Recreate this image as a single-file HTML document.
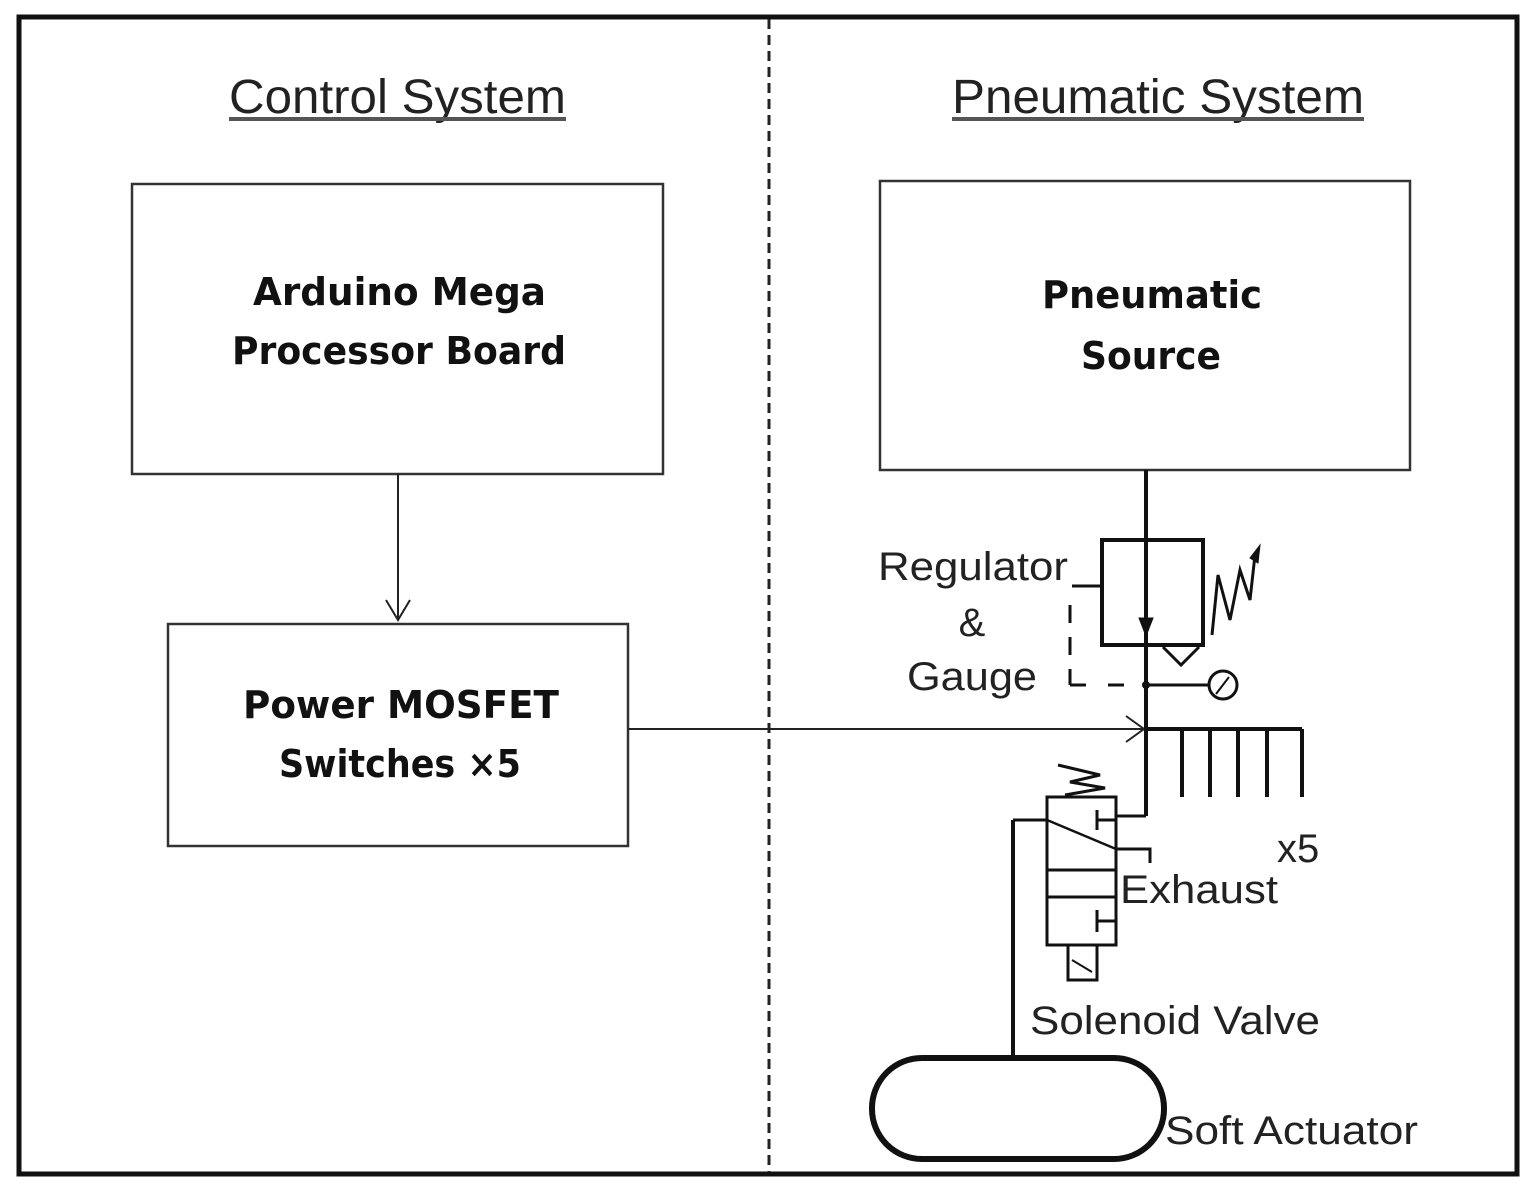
<!DOCTYPE html>
<html><head><meta charset="utf-8"><style>html,body{margin:0;padding:0;background:#fff}svg{display:block}</style></head>
<body>
<svg width="1530" height="1186" viewBox="0 0 1530 1186" xmlns="http://www.w3.org/2000/svg">
<rect x="0" y="0" width="1530" height="1186" fill="#fff"/>
<rect x="19" y="17" width="1498" height="1157" fill="none" stroke="#111" stroke-width="5"/>
<line x1="769" y1="19" x2="769" y2="1172" stroke="#222" stroke-width="3" stroke-dasharray="10,6"/>
<g font-family="Liberation Sans, sans-serif" fill="#222">
<text x="229" y="113" font-size="48" textLength="337" lengthAdjust="spacingAndGlyphs">Control System</text>
<line x1="229" y1="119" x2="566" y2="119" stroke="#555" stroke-width="4"/>
<text x="952" y="113" font-size="48" textLength="412" lengthAdjust="spacingAndGlyphs">Pneumatic System</text>
<line x1="952" y1="119" x2="1364" y2="119" stroke="#555" stroke-width="4"/>
</g>
<g fill="none" stroke="#333" stroke-width="2.5">
<rect x="132" y="184" width="531" height="290"/>
<rect x="168" y="624" width="460" height="222"/>
<rect x="880" y="181" width="530" height="289"/>
</g>
<g font-family="DejaVu Sans, Liberation Sans, sans-serif" font-weight="bold" fill="#111" font-size="38">
<text x="253" y="305" textLength="293" lengthAdjust="spacingAndGlyphs">Arduino Mega</text>
<text x="232" y="364" textLength="334" lengthAdjust="spacingAndGlyphs">Processor Board</text>
<text x="243" y="718" textLength="316" lengthAdjust="spacingAndGlyphs">Power MOSFET</text>
<text x="279" y="777" textLength="242" lengthAdjust="spacingAndGlyphs">Switches ×5</text>
<text x="1042" y="308" textLength="220" lengthAdjust="spacingAndGlyphs">Pneumatic</text>
<text x="1081" y="369" textLength="140" lengthAdjust="spacingAndGlyphs">Source</text>
</g>
<g stroke="#222" stroke-width="2" fill="none">
<line x1="398" y1="474" x2="398" y2="620"/>
<polyline points="386,600 398,620 410,600"/>
<line x1="628" y1="729" x2="1144" y2="729"/>
<polyline points="1126,716 1144,729 1126,742"/>
</g>
<g stroke="#111" stroke-width="4" fill="none">
<line x1="1146" y1="470" x2="1146" y2="816"/>
<rect x="1102" y="540" width="101" height="105"/>
<polygon points="1139,618 1153,618 1146,636" fill="#111" stroke-width="1"/>
<polyline points="1163,647 1181,665 1199,647" stroke-width="3"/>
<line x1="1146" y1="685" x2="1208" y2="685" stroke-width="3"/>
<circle cx="1146" cy="685" r="4" fill="#111" stroke="none"/>
<circle cx="1223" cy="685" r="14" stroke-width="3"/>
<line x1="1216" y1="694" x2="1229" y2="677" stroke-width="2"/>
<polyline points="1100,586 1072,586" stroke-width="3"/>
<line x1="1070" y1="605" x2="1070" y2="685" stroke-width="3" stroke-dasharray="18,14"/>
<line x1="1070" y1="685" x2="1140" y2="685" stroke-width="3" stroke-dasharray="16,22"/>
<polyline points="1212,635 1218,575 1230,620 1240,570 1250,600 1255,555" stroke-width="3"/>
<polygon points="1250,558 1260,545 1258,563" fill="#111" stroke-width="1"/>
<line x1="1146" y1="729" x2="1302" y2="729"/>
<line x1="1182" y1="729" x2="1182" y2="797"/>
<line x1="1210" y1="729" x2="1210" y2="797"/>
<line x1="1238" y1="729" x2="1238" y2="797"/>
<line x1="1267" y1="729" x2="1267" y2="797"/>
<line x1="1302" y1="729" x2="1302" y2="797"/>
<polyline points="1146,816 1116,816" stroke-width="3"/>
<rect x="1047" y="797" width="69" height="148" stroke-width="3"/>
<line x1="1047" y1="870" x2="1116" y2="870" stroke-width="3"/>
<line x1="1047" y1="897" x2="1116" y2="897" stroke-width="3"/>
<line x1="1013" y1="820" x2="1047" y2="820" stroke-width="3"/>
<line x1="1047" y1="820" x2="1116" y2="849" stroke-width="2.5"/>
<polyline points="1116,849 1150,849 1150,863" stroke-width="3"/>
<line x1="1097" y1="810" x2="1097" y2="830" stroke-width="3"/>
<line x1="1097" y1="820" x2="1116" y2="820" stroke-width="3"/>
<line x1="1097" y1="910" x2="1097" y2="932" stroke-width="3"/>
<line x1="1097" y1="921" x2="1116" y2="921" stroke-width="3"/>
<polyline points="1058,765 1100,775 1070,782 1105,788 1065,795" stroke-width="3"/>
<rect x="1068" y="945" width="29" height="35" stroke-width="3"/>
<line x1="1072" y1="960" x2="1092" y2="972" stroke-width="2"/>
<line x1="1013" y1="820" x2="1013" y2="1058"/>
<rect x="872" y="1058" width="292" height="101" rx="50" ry="50" stroke-width="6"/>
</g>
<g font-family="Liberation Sans, sans-serif" fill="#222" font-size="40">
<text x="878" y="580" textLength="190" lengthAdjust="spacingAndGlyphs">Regulator</text>
<text x="972" y="636" text-anchor="middle">&amp;</text>
<text x="907" y="690" textLength="130" lengthAdjust="spacingAndGlyphs">Gauge</text>
<text x="1277" y="862">x5</text>
<text x="1120" y="903" textLength="158" lengthAdjust="spacingAndGlyphs">Exhaust</text>
<text x="1030" y="1034" textLength="290" lengthAdjust="spacingAndGlyphs">Solenoid Valve</text>
<text x="1165" y="1144" textLength="253" lengthAdjust="spacingAndGlyphs">Soft Actuator</text>
</g>
</svg>
</body></html>
